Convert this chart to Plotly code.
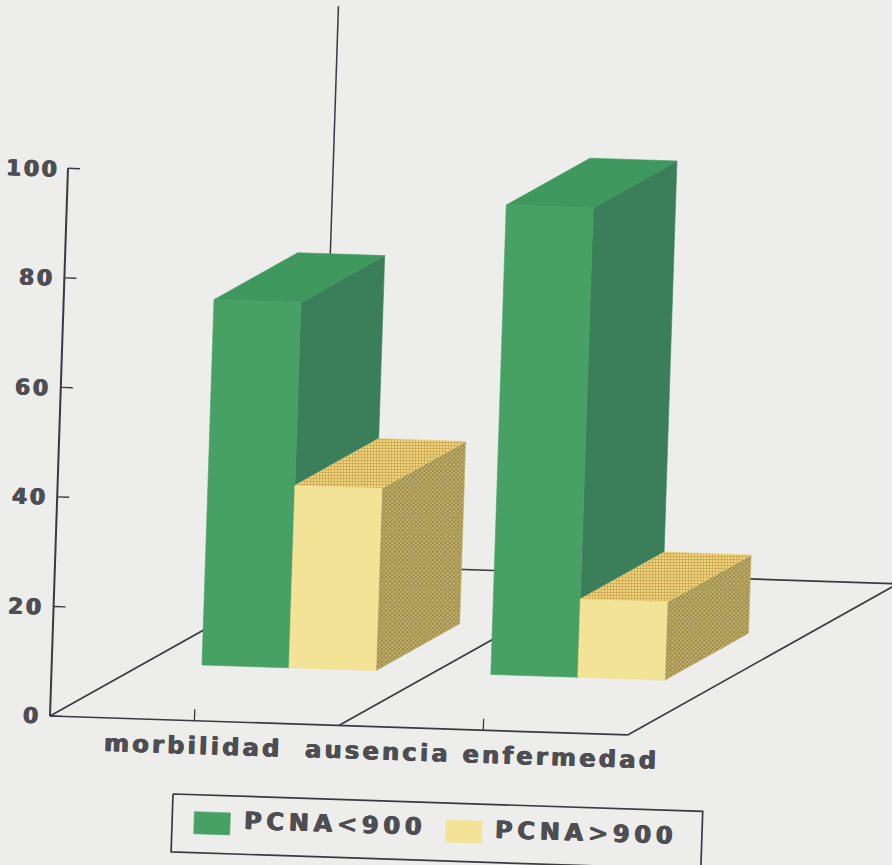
import numpy as np
import plotly.graph_objects as go

# ---------------- data ----------------
categories = ["morbilidad", "ausencia enfermedad"]
series_names = ["PCNA<900", "PCNA>900"]
pcna_low = [66.7, 85.7]     # PCNA<900
pcna_high = [33.3, 14.3]    # PCNA>900
y_ticks = [0, 20, 40, 60, 80, 100]

# ---------------- style / geometry ----------------
BG = "#ededeb"
INK = "#3a3a42"
TXT = "#4e4e52"
FONT = "DejaVu Sans"
SHADOW = "0.6px 0 0 #4e4e52, -0.6px 0 0 #4e4e52"
OX, OY = 50.0, 716.0          # front-left floor corner (px)
ANG = np.radians(1.88)        # scan tilt
C, S = np.cos(ANG), np.sin(ANG)
UNIT = 5.48                   # px per value unit
W = 578.0                     # floor width
DA, DB = 265.0, 160.0         # depth vector (px)
T0, T1 = 0.35, 0.66           # bar depth span
BW = 87.0                     # bar width
series_vals = [pcna_low, pcna_high]
face_styles = [
    dict(front=dict(color="#47a164"), top=dict(color="#3f995e"), side=dict(color="#3b7f5a")),
    dict(front=dict(color="#f3e396"),
         top=dict(color="#e6cb74", pattern=dict(shape="+", bgcolor="#ecd37c", fgcolor="#c49846", size=3, solidity=0.35)),
         side=dict(color="#b8a660", pattern=dict(shape="x", bgcolor="#bfad66", fgcolor="#877843", size=3, solidity=0.4))),
]


def P(a, v, t=0.0, dx=0.0, dy=0.0):
    """project (horizontal px, value, depth fraction) to page px; dx/dy extra px offsets in tilted frame"""
    ba = a + t * DA + dx
    bb = v * UNIT + t * DB - dy
    return OX + ba * C + bb * S, OY + ba * S - bb * C


fig = go.Figure()


def poly(pts, color, pattern=None):
    xs = [p[0] for p in pts] + [pts[0][0]]
    ys = [p[1] for p in pts] + [pts[0][1]]
    kw = dict(x=xs, y=ys, mode="lines", fill="toself", fillcolor=color,
              line=dict(color=color if pattern is None else pattern["bgcolor"], width=0.6),
              hoverinfo="skip", showlegend=False)
    if pattern is not None:
        kw["fillpattern"] = dict(shape=pattern["shape"], bgcolor=pattern["bgcolor"],
                                 fgcolor=pattern["fgcolor"], size=pattern["size"],
                                 solidity=pattern["solidity"], fillmode="replace")
    fig.add_trace(go.Scatter(**kw))


def seg(p, q, width=1.7, color=INK):
    fig.add_trace(go.Scatter(x=[p[0], q[0]], y=[p[1], q[1]], mode="lines",
                             line=dict(color=color, width=width), hoverinfo="skip", showlegend=False))


def label(x, y, text, size, spacing, xanchor):
    fig.add_annotation(x=x, y=y, text=f'<span style="letter-spacing:{spacing}px">{text}</span>',
                       showarrow=False, xanchor=xanchor, yanchor="middle", textangle=1.88,
                       font=dict(family=FONT, size=size, color=TXT, weight="bold", shadow=SHADOW))


# floor + walls
seg(P(0, 0, 0), P(W, 0, 0))
seg(P(W, 0, 0), P(W, 0, 1))
seg(P(0, 0, 1), P(W, 0, 1))
seg(P(0, 0, 0), P(0, 0, 1))
seg(P(W / 2, 0, 0), P(W / 2, 0, 1))
seg(P(0, 0, 1), P(0, 102, 1), width=1.5)
seg(P(0, 0, 0), P(0, 100, 0), width=2.0)

# y ticks + labels
for v in y_ticks:
    seg(P(0, v, 0), P(12, v, 0), width=1.4)
    x, y = P(0, v, 0, dx=-7)
    label(x, y, str(v), 22, 2.5, "right")

# category ticks + labels
n = len(categories)
for i, cat in enumerate(categories):
    ac = W * (i + 0.5) / n
    seg(P(ac, 0, 0), P(ac, 2.1, 0), width=1.3)
    x, y = P(ac, 0, 0, dy=25)
    label(x, y, cat, 24, 3.3, "center")

# bars
ns = len(series_vals)
for i in range(n):
    ac = W * (i + 0.5) / n
    for k in range(ns):
        v = series_vals[k][i]
        a0 = ac - BW * ns / 2 + k * BW
        a1 = a0 + BW
        st = face_styles[k]
        poly([P(a1, 0, T0), P(a1, 0, T1), P(a1, v, T1), P(a1, v, T0)], st["side"]["color"], st["side"].get("pattern"))
        poly([P(a0, v, T0), P(a1, v, T0), P(a1, v, T1), P(a0, v, T1)], st["top"]["color"], st["top"].get("pattern"))
        poly([P(a0, 0, T0), P(a1, 0, T0), P(a1, v, T0), P(a0, v, T0)], st["front"]["color"])

# legend (tilted box)
LX, LY = 173.0, 794.0


def L(u, w):
    return LX + u * C - w * S, LY + u * S + w * C


box = [L(0, 0), L(530, 0), L(530, 58), L(0, 58), L(0, 0)]
fig.add_trace(go.Scatter(x=[p[0] for p in box], y=[p[1] for p in box], mode="lines",
                         line=dict(color=INK, width=1.7), hoverinfo="skip", showlegend=False))
legend_u = [22, 274]
for k, name in enumerate(series_names):
    u = legend_u[k]
    poly([L(u, 17), L(u + 36, 17), L(u + 36, 39), L(u, 39)], face_styles[k]["front"]["color"])
    x, y = L(u + 47, 28)
    label(x, y, name, 24, 4.8, "left")

fig.update_layout(
    width=892, height=865, margin=dict(l=0, r=0, t=0, b=0),
    paper_bgcolor=BG, plot_bgcolor=BG, showlegend=False,
    xaxis=dict(range=[0, 892], visible=False, fixedrange=True),
    yaxis=dict(range=[865, 0], visible=False, fixedrange=True),
)

fig.write_html("out.html", config={"displayModeBar": False})
